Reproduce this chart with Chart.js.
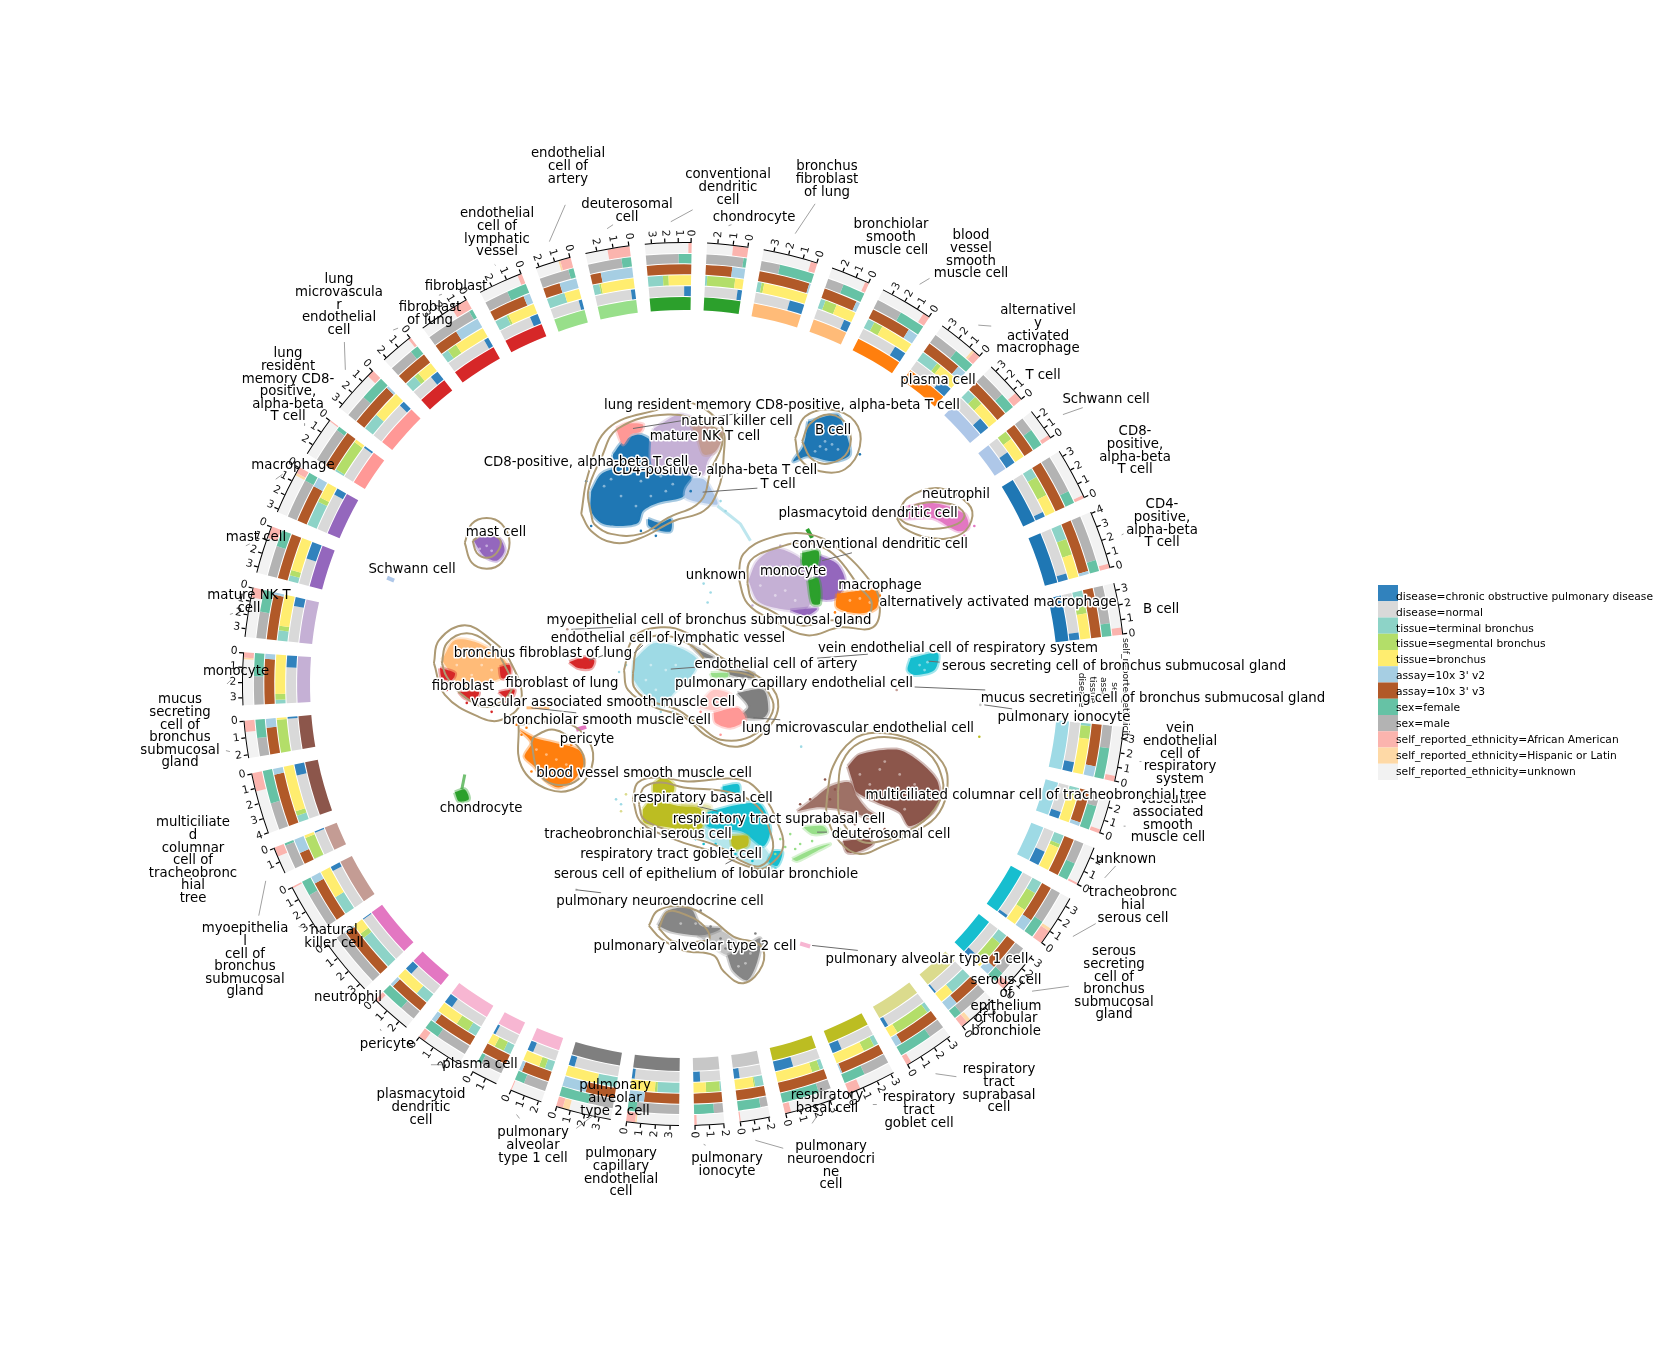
<!DOCTYPE html>
<html lang="en">
<head>
<meta charset="UTF-8">
<title>Lung cell atlas circular chart</title>
<script src="https://cdn.jsdelivr.net/npm/chart.js"></script>
<style>
    html, body { margin: 0; padding: 0; background: #fff; }
    #page { position: relative; width: 1668px; height: 1369px; overflow: hidden; }
    #rings { position: absolute; left: 238px; top: 238px; }
    #umap { position: absolute; left: 0; top: 0; }
</style>
</head>
<body>
<div id="page">
    <canvas id="rings" width="892" height="892"></canvas>
    <canvas id="umap" width="1668" height="1369"></canvas>
</div>
<script>
// sectors run clockwise, starting just right of 12 o'clock
const cellTypes = ['chondrocyte', 'bronchus fibroblast of lung', 'bronchiolar smooth muscle cell', 'blood vessel smooth muscle cell',
    'alternatively activated macrophage', 'T cell', 'Schwann cell', 'CD8-positive, alpha-beta T cell', 'CD4-positive, alpha-beta T cell', 'B cell',
    'vein endothelial cell of respiratory system', 'vascular associated smooth muscle cell', 'unknown', 'tracheobronchial serous cell',
    'serous secreting cell of bronchus submucosal gland', 'serous cell of epithelium of lobular bronchiole', 'respiratory tract suprabasal cell',
    'respiratory tract goblet cell', 'respiratory basal cell', 'pulmonary neuroendocrine cell', 'pulmonary ionocyte', 'pulmonary capillary endothelial cell',
    'pulmonary alveolar type 2 cell', 'pulmonary alveolar type 1 cell', 'plasma cell', 'plasmacytoid dendritic cell', 'pericyte', 'neutrophil',
    'natural killer cell', 'myoepithelial cell of bronchus submucosal gland', 'multiciliated columnar cell of tracheobronchial tree',
    'mucus secreting cell of bronchus submucosal gland', 'monocyte', 'mature NK T cell', 'mast cell', 'macrophage',
    'lung resident memory CD8-positive, alpha-beta T cell', 'lung microvascular endothelial cell', 'fibroblast of lung', 'fibroblast',
    'endothelial cell of lymphatic vessel', 'endothelial cell of artery', 'deuterosomal cell', 'conventional dendritic cell'];
const cellColors = ['#2ca02c', '#ffbb78', '#ffbb78', '#ff7f0e', '#ff7f0e', '#aec7e8', '#aec7e8', '#1f77b4', '#1f77b4', '#1f77b4',
    '#9edae5', '#9edae5', '#9edae5', '#17becf', '#17becf', '#dbdb8d', '#dbdb8d', '#bcbd22', '#bcbd22', '#c7c7c7', '#c7c7c7', '#7f7f7f',
    '#7f7f7f', '#f7b6d2', '#f7b6d2', '#f7b6d2', '#e377c2', '#e377c2', '#c49c94', '#c49c94', '#8c564b', '#8c564b', '#c5b0d5', '#c5b0d5',
    '#9467bd', '#9467bd', '#ff9896', '#ff9896', '#d62728', '#d62728', '#d62728', '#98df8a', '#98df8a', '#2ca02c'];
// axis length of each sector (log counts) and the arc it takes
const sectorMax = [2.7, 3.7, 2.8, 3.7, 3.5, 3.5, 2.7, 3.4, 4.1, 3.5, 3.8, 2.8, 2.7, 3.6, 3.2, 2.7, 3.2, 3.2, 3.3, 2.1, 2.0, 3.6, 3.8, 2.2,
    1.8, 2.7, 2.6, 3.4, 3.7, 1.8, 4.0, 2.2, 3.5, 3.6, 3.4, 3.2, 2.7, 3.3, 2.2, 3.7, 2.8, 2.2, 2.7, 3.5];
const sectorSpan = [5.4, 7.2, 5.2, 7.0, 6.3, 5.8, 4.3, 6.9, 7.7, 6.8, 7.2, 5.0, 5.3, 6.9, 5.7, 5.3, 6.7, 6.4, 6.7, 4.0, 3.9, 6.9, 7.3, 4.3,
    3.5, 6.3, 5.4, 7.5, 6.8, 3.6, 8.1, 4.9, 6.9, 6.5, 6.3, 6.5, 5.3, 6.5, 4.5, 6.8, 5.9, 4.7, 5.8, 6.1];

// share of each sector, in percent
const africanAmerican = [37, 12, 10, 13, 15, 20, 12, 6, 8, 14, 10, 10, 5, 27, 18, 17, 10, 25, 12, 4, 8, 17, 12, 3, 0, 15, 10, 0, 3, 35, 30, 30, 10, 20, 25, 13, 3, 15, 8, 33, 10, 30, 50, 7];
const hispanic = [0, 0, 0, 0, 5, 0, 0, 0, 0, 0, 0, 0, 0, 6, 0, 10, 0, 0, 0, 0, 0, 3, 12, 0, 0, 0, 0, 0, 0, 0, 0, 0, 3, 0, 0, 5, 0, 0, 0, 0, 0, 5, 0, 0];
const female = [8, 65, 58, 50, 45, 38, 55, 25, 20, 25, 58, 65, 45, 35, 25, 20, 68, 45, 75, 75, 68, 17, 55, 30, 15, 32, 60, 0, 30, 8, 55, 50, 45, 45, 35, 18, 10, 52, 25, 7, 45, 15, 22, 28];
const assayV2 = [33, 3, 10, 20, 20, 0, 0, 0, 5, 0, 20, 10, 0, 25, 22, 28, 13, 3, 0, 0, 0, 30, 45, 10, 0, 10, 8, 3, 15, 55, 10, 25, 10, 5, 0, 20, 0, 5, 0, 50, 15, 50, 75, 0];
const tissueBronchus = [22, 87, 55, 68, 50, 55, 70, 38, 42, 52, 70, 75, 65, 35, 15, 38, 17, 65, 75, 65, 45, 50, 62, 55, 30, 50, 65, 20, 60, 10, 80, 5, 80, 68, 75, 35, 8, 62, 50, 65, 65, 45, 80, 52];
const tissueSegmental = [73, 5, 32, 18, 10, 22, 30, 42, 30, 20, 25, 15, 10, 40, 60, 0, 75, 25, 17, 5, 50, 5, 0, 20, 40, 30, 0, 10, 0, 88, 8, 95, 12, 10, 12, 10, 87, 0, 15, 20, 5, 0, 4, 13];
const diseaseCopd = [12, 30, 20, 25, 30, 30, 42, 10, 12, 15, 20, 20, 40, 6, 15, 5, 8, 22, 40, 20, 25, 6, 12, 20, 10, 20, 20, 2, 10, 5, 20, 5, 25, 20, 40, 15, 5, 12, 27, 10, 20, 10, 10, 16];

const legendLabels = ['disease=chronic obstructive pulmonary disease', 'disease=normal', 'tissue=terminal bronchus', 'tissue=segmental bronchus', 'tissue=bronchus',
    "assay=10x 3' v2", "assay=10x 3' v3", 'sex=female', 'sex=male', 'self_reported_ethnicity=African American', 'self_reported_ethnicity=Hispanic or Latin', 'self_reported_ethnicity=unknown'];
const legendColors = ['#3182bd', '#d9d9d9', '#8dd3c7', '#b3de69', '#ffed6f', '#a6cee3', '#b15928', '#66c2a5', '#b3b3b3', '#fbb4ae', '#fed9a6', '#f2f2f2'];
const [cCopd, cNormal, cTerminal, cSegmental, cBronchus, cV2, cV3, cFemale, cMale, cAfrican, cHispanic, cEthUnknown] = legendColors;

const trackNames = ['self_reported_ethnicity', 'sex', 'assay', 'tissue', 'disease'];

// ---- UMAP cluster outlines and density contours ----
const tLower = [[590,490],[600,473],[617,467],[653,468],[690,475],[687,490],[680,497],[657,502],[642,510],[637,522],[617,525],[600,522],[590,510]];
const tUpper = [[612,453],[622,440],[637,433],[650,440],[652,467],[613,467]];
const tBud = [[647,518],[660,522],[670,518],[670,530],[660,530],[648,525]];
const lrmBlob = [[615,427],[627,422],[642,423],[640,430],[630,433],[622,443]];
const nkBlob = [[653,427],[680,413],[707,427],[717,443],[707,460],[703,473],[690,473],[653,467],[650,440]];
const nkBrown = [[690,423],[722,430],[715,450],[703,453],[697,437]];
const tLight = [[693,477],[703,478],[710,487],[717,503],[703,502],[685,497],[685,488]];
const bBlob = [[808,420],[837,413],[843,423],[850,453],[833,460],[807,455],[793,460],[803,445]];
const mastBlob = [[472,540],[483,535],[498,538],[503,550],[495,560],[482,555]];
const monoBlob = [[748,580],[757,560],[777,548],[803,560],[810,577],[810,603],[803,610],[773,607],[757,600]];
const macroBlob = [[820,555],[837,563],[845,580],[837,597],[820,598],[815,580]];
const macroFoot = [[790,610],[817,608],[807,615]];
const cdcTop = [[802,552],[818,550],[817,565],[803,565]];
const cdcLow = [[808,580],[818,578],[820,603],[812,603]];
const altBlob = [[837,593],[877,590],[877,607],[860,613],[837,607]];
const neutroBlob = [[901,508],[933,502],[965,513],[969,527],[958,530],[933,517],[904,517]];
const bronchFib = [[440,660],[453,640],[477,643],[503,660],[507,673],[487,683],[463,690],[447,670]];
const fibA = [[438,668],[453,673],[450,680],[440,678]];
const fibB = [[498,667],[508,665],[508,677],[500,678]];
const fibC = [[457,692],[477,692],[473,700],[463,698]];
const fibD = [[497,692],[513,690],[508,700]];
const fibLung = [[568,662],[583,657],[593,660],[590,668],[577,668]];
const veinBlob = [[633,660],[653,643],[677,647],[697,660],[690,677],[673,693],[660,707],[633,680]];
const capTop = [[690,645],[703,652],[713,657],[703,657]];
const capMid = [[728,670],[753,673],[753,678],[730,675]];
const artSliver = [[710,673],[727,673],[727,677],[712,677]];
const capBlob = [[737,693],[763,690],[768,710],[763,718],[740,717],[748,707]];
const lmvBlob = [[713,713],[737,708],[745,720],[730,728],[715,723]];
const lmvFaint = [[697,707],[713,690],[733,697],[715,710]];
const bloodBlob = [[518,730],[533,738],[553,743],[577,750],[583,763],[573,780],[557,788],[543,780],[533,767],[523,757],[530,743]];
const chondBlob = [[453,793],[463,790],[467,800],[457,802]];
const basalBig = [[642,810],[650,802],[680,807],[700,810],[700,830],[660,827],[643,823]];
const basalTop = [[652,785],[662,778],[673,785],[672,793],[653,793]];
const gobletLow = [[730,837],[747,837],[747,847],[733,850]];
const paleOlive = [[680,802],[710,807],[707,817],[683,817]];
const paleTeal = [[690,830],[710,822],[745,830],[765,850],[775,868],[755,868],[725,850]];
const serousTop = [[722,787],[738,785],[738,795],[723,793]];
const serousMid = [[707,813],[740,805],[760,805],[770,830],[763,847],[743,833],[727,830],[707,827]];
const serousLow = [[773,852],[782,853],[777,867],[768,862]];
const deutA = [[803,828],[823,827],[827,833],[813,835]];
const deutB = [[792,860],[813,850],[830,845],[817,852],[797,862]];
const multiBig = [[848,767],[860,755],[897,750],[917,760],[937,780],[940,797],[933,813],[910,827],[900,813],[877,803],[857,793],[853,783]];
const multiWing = [[797,812],[813,800],[830,787],[850,783],[857,797],[867,810],[877,817],[877,823],[853,813],[820,808]];
const multiFoot = [[843,842],[867,840],[873,845],[857,853],[847,853]];
const type2A = [[657,927],[667,912],[690,910],[700,927],[720,930],[710,935],[697,937],[670,933]];
const type2B = [[727,957],[743,950],[760,940],[757,963],[747,982],[733,973]];
const type2Neck = [[697,937],[720,932],[740,950],[727,957]];
const serousRight = [[911,658],[938,653],[935,670],[915,675],[908,670]];

// later entries are painted over earlier ones
const clusterShapes = [
    [tLower, '#1f77b4'], [tUpper, '#1f77b4'], [tBud, '#1f77b4'], [nkBlob, '#c5b0d5'], [nkBrown, '#c49c94'], [lrmBlob, '#ff9896'], [tLight, '#aec7e8'],
    [bBlob, '#1f77b4'], [mastBlob, '#9467bd'], [monoBlob, '#c5b0d5'], [macroBlob, '#9467bd'], [macroFoot, '#9467bd'], [cdcTop, '#2ca02c'], [cdcLow, '#2ca02c'],
    [altBlob, '#ff7f0e'], [neutroBlob, '#e377c2'], [bronchFib, '#ffbb78'], [fibA, '#d62728'], [fibB, '#d62728'], [fibC, '#d62728'], [fibD, '#d62728'],
    [fibLung, '#d62728'], [veinBlob, '#9edae5'], [capTop, '#7f7f7f'], [capMid, '#7f7f7f'], [artSliver, '#98df8a'], [lmvFaint, '#ffc8c6'], [capBlob, '#7f7f7f'], [lmvBlob, '#ff9896'],
    [bloodBlob, '#ff7f0e'], [chondBlob, '#2ca02c'], [paleTeal, '#b5e6ec'], [paleOlive, '#e4e4ad'], [basalBig, '#bcbd22'], [basalTop, '#bcbd22'], [serousTop, '#17becf'], [serousMid, '#17becf'], [gobletLow, '#bcbd22'],
    [serousLow, '#17becf'], [deutA, '#98df8a'], [deutB, '#98df8a'], [multiWing, '#9e7166'], [multiBig, '#8c564b'], [multiFoot, '#8c564b'],
    [type2Neck, '#c4c4c4'], [type2A, '#868686'], [type2B, '#868686'], [serousRight, '#17becf']
];

const contourShapes = [
    [[580,513],[587,473],[607,427],[660,407],[687,400],[720,423],[723,457],[717,490],[703,510],[673,520],[640,537],[613,542],[590,530]],
    [[590,513],[587,490],[600,457],[617,427],[667,413],[707,423],[722,437],[710,470],[700,500],[667,517],[640,533],[610,533],[593,523]],
    [[795,437],[805,415],[830,408],[855,420],[860,445],[845,468],[820,470],[800,458]],
    [[802,440],[810,422],[830,413],[848,425],[848,450],[830,462],[812,458]],
    [[463,542],[470,523],[485,517],[500,523],[508,542],[500,562],[485,568],[470,562]],
    [[471,540],[475,552],[485,557],[495,552],[499,540],[490,534],[480,534]],
    [[738,577],[743,553],[770,537],[807,533],[837,547],[870,580],[880,603],[873,627],[840,627],[807,635],[773,620],[747,603]],
    [[747,583],[750,560],[777,547],[807,542],[833,553],[860,587],[872,603],[863,620],[830,620],[800,625],[770,610],[752,600]],
    [[897,517],[908,497],[940,487],[969,503],[972,520],[958,535],[929,537],[904,527]],
    [[899,517],[919,503],[951,503],[965,513],[958,523],[933,528],[908,523]],
    [[432,663],[437,640],[463,625],[490,640],[508,660],[520,700],[500,720],[477,717],[443,695]],
    [[440,663],[445,643],[465,633],[487,643],[503,665],[510,690],[487,707],[463,697],[445,677]],
    [[623,670],[633,637],[660,627],[687,633],[720,657],[767,683],[778,707],[763,733],[737,747],[707,737],[683,717],[653,707],[627,690]],
    [[632,673],[637,647],[658,635],[690,645],[713,667],[753,677],[772,700],[770,717],[750,737],[720,740],[700,727],[677,710],[647,700],[633,687]],
    [[517,725],[520,767],[547,790],[577,787],[592,760],[583,735],[560,722]],
    [[530,743],[533,737],[553,730],[573,743],[583,760],[577,780],[553,785],[537,773]],
    [[827,797],[833,767],[853,740],[877,733],[917,742],[943,763],[948,787],[940,813],[920,830],[883,847],[860,855],[840,843],[827,817]],
    [[838,793],[842,763],[860,743],[893,738],[927,752],[943,780],[940,802],[917,827],[877,843],[857,840],[840,817]],
    [[632,800],[637,783],[657,778],[687,782],[740,780],[763,797],[777,823],[783,847],[773,863],[757,870],[713,853],[673,840],[640,823]],
    [[638,805],[643,788],[660,783],[683,788],[730,793],[757,807],[770,833],[772,853],[760,867],[743,863],[717,847],[673,833],[643,820]],
    [[648,927],[657,912],[683,908],[710,920],[733,938],[760,947],[762,967],[743,985],[723,973],[713,957],[683,952],[660,940]],
    [[658,930],[667,913],[687,917],[703,927],[709,940],[700,943],[673,943]]
];

// thin streaks of cells
const streaks = [
    [[[717,505],[730,515],[740,523],[750,540]], '#9edae5aa', 3],
    [[[807,528],[812,537]], '#2ca02c', 4],
    [[[385,577],[392,580]], '#aec7e8', 4],
    [[[463,775],[460,790]], '#2ca02caa', 3],
    [[[525,708],[548,708]], '#ffbb78', 3],
    [[[575,730],[585,727]], '#e377c2', 4],
    [[[800,945],[810,948]], '#f7b6d2', 4]
];
// isolated small clusters and loose cells around the big ones
const strayPoints = [
    ['#9edae5', [[703,583],[710,592],[707,602],[801,747],[615,800],[620,805],[625,665],[618,672],[660,712],[672,712],[690,700],[640,705],[720,500],[725,510]]],
    ['#c49c94', [[897,690],[566,629]]],
    ['#c7c7c7', [[981,705],[575,891]]],
    ['#bcbd22', [[980,737]]],
    ['#17becf', [[695,840],[703,845],[700,853],[712,838],[758,872],[765,870],[775,870],[752,862],[742,858],[735,855],[725,852],[715,845]]],
    ['#dbdb8d', [[665,835],[675,835],[690,833],[700,800],[715,800],[650,835],[640,830],[620,812],[625,795]]],
    ['#98df8a', [[790,835],[785,848],[800,845],[812,842],[775,855],[780,840],[795,850],[835,835],[840,830]]],
    ['#8c564b', [[800,805],[810,800],[825,780],[835,790],[845,815],[855,825],[870,830],[885,830],[895,835],[830,800]]],
    ['#d62728', [[445,690],[450,685],[465,703],[480,705],[490,712],[505,702],[515,680]]],
    ['#ff7f0e', [[515,725],[520,735],[525,728],[570,745],[585,770],[530,772],[835,612],[845,618],[880,595]]],
    ['#7f7f7f', [[690,905],[660,905],[700,912],[710,928],[720,940],[735,945],[762,945],[755,935],[725,950]]],
    ['#ff9896', [[695,700],[700,712],[750,728],[720,735]]],
    ['#c5b0d5', [[745,575],[752,605],[770,615],[790,620],[780,545]]],
    ['#1f77b4', [[590,525],[640,530],[655,535],[585,480],[690,490],[860,453]]],
    ['#e377c2', [[975,525],[965,535],[895,510],[910,505]]]
];
// bare patches inside the dense clusters
const holes = [[610,478],[625,473],[603,485],[640,480],[660,475],[620,495],[598,470],[650,495],[665,490],[672,483],[635,505],[645,515],[655,512],[630,472],[615,470],
    [820,445],[826,448],[832,443],[815,450],[838,448],[825,440],[770,575],[785,590],[760,585],[795,600],[775,595],[790,565],
    [465,650],[480,665],[455,665],[470,675],[490,670],[545,755],[555,760],[535,750],[565,765],[560,772],[550,770],
    [650,665],[665,670],[645,680],[675,665],[655,690],[880,770],[900,775],[915,785],[870,785],[895,795],[925,800],[905,810],[885,762],[860,775],
    [680,925],[695,925],[745,965],[750,955],[738,968],[850,600],[860,598],[870,602],[920,665],[928,662],[925,670],[485,545],[490,550],[478,548]];

// ---- text ----
const outerLabels = [
    [['conventional', 'dendritic', 'cell'], 728, 173], [['chondrocyte'], 754, 216], [['bronchus', 'fibroblast', 'of lung'], 827, 165],
    [['bronchiolar', 'smooth', 'muscle cell'], 891, 223], [['blood', 'vessel', 'smooth', 'muscle cell'], 971, 234],
    [['alternativel', 'y', 'activated', 'macrophage'], 1038, 309], [['T cell'], 1043, 374], [['Schwann cell'], 1106, 398],
    [['CD8-', 'positive,', 'alpha-beta', 'T cell'], 1135, 430], [['CD4-', 'positive,', 'alpha-beta', 'T cell'], 1162, 503], [['B cell'], 1161, 608],
    [['vein', 'endothelial', 'cell of', 'respiratory', 'system'], 1180, 727], [['vascular', 'associated', 'smooth', 'muscle cell'], 1168, 798],
    [['unknown'], 1126, 858], [['tracheobronc', 'hial', 'serous cell'], 1133, 891], [['serous', 'secreting', 'cell of', 'bronchus', 'submucosal', 'gland'], 1114, 950],
    [['serous cell', 'of', 'epithelium', 'of lobular', 'bronchiole'], 1006, 979], [['respiratory', 'tract', 'suprabasal', 'cell'], 999, 1068],
    [['respiratory', 'tract', 'goblet cell'], 919, 1096], [['respiratory', 'basal cell'], 827, 1094], [['pulmonary', 'neuroendocri', 'ne', 'cell'], 831, 1145],
    [['pulmonary', 'ionocyte'], 727, 1157], [['pulmonary', 'capillary', 'endothelial', 'cell'], 621, 1152], [['pulmonary', 'alveolar', 'type 2 cell'], 615, 1084],
    [['pulmonary', 'alveolar', 'type 1 cell'], 533, 1131], [['plasmacytoid', 'dendritic', 'cell'], 421, 1093], [['plasma cell'], 480, 1063], [['pericyte'], 387, 1043],
    [['neutrophil'], 348, 996], [['natural', 'killer cell'], 334, 929], [['myoepithelia', 'l', 'cell of', 'bronchus', 'submucosal', 'gland'], 245, 927],
    [['multiciliate', 'd', 'columnar', 'cell of', 'tracheobronc', 'hial', 'tree'], 193, 821], [['mucus', 'secreting', 'cell of', 'bronchus', 'submucosal', 'gland'], 180, 698],
    [['monocyte'], 236, 670], [['mature NK T', 'cell'], 249, 594], [['mast cell'], 256, 536], [['macrophage'], 293, 464],
    [['lung', 'resident', 'memory CD8-', 'positive,', 'alpha-beta', 'T cell'], 288, 352], [['lung', 'microvascula', 'r', 'endothelial', 'cell'], 339, 278],
    [['fibroblast', 'of lung'], 430, 306], [['fibroblast'], 456, 285], [['endothelial', 'cell of', 'lymphatic', 'vessel'], 497, 212],
    [['endothelial', 'cell of', 'artery'], 568, 152], [['deuterosomal', 'cell'], 627, 203]
];
// drawn in this order, later halos cover earlier text
const innerLabels = [
    ['B cell', 833, 429], ['CD4-positive, alpha-beta T cell', 715, 469], ['CD8-positive, alpha-beta T cell', 586, 461], ['Schwann cell', 412, 568],
    ['T cell', 778, 483], ['alternatively activated macrophage', 998, 601], ['blood vessel smooth muscle cell', 644, 772], ['bronchiolar smooth muscle cell', 607, 719],
    ['bronchus fibroblast of lung', 543, 652], ['chondrocyte', 481, 807], ['conventional dendritic cell', 880, 543], ['deuterosomal cell', 891, 833],
    ['endothelial cell of artery', 776, 663], ['endothelial cell of lymphatic vessel', 668, 637], ['fibroblast', 463, 685], ['fibroblast of lung', 562, 682],
    ['lung microvascular endothelial cell', 858, 727], ['lung resident memory CD8-positive, alpha-beta T cell', 782, 404], ['macrophage', 880, 584], ['mast cell', 496, 531],
    ['mature NK T cell', 705, 435], ['monocyte', 793, 570], ['mucus secreting cell of bronchus submucosal gland', 1153, 697],
    ['multiciliated columnar cell of tracheobronchial tree', 1036, 794], ['myoepithelial cell of bronchus submucosal gland', 709, 619], ['natural killer cell', 737, 420],
    ['neutrophil', 956, 493], ['pericyte', 587, 738], ['plasma cell', 938, 379], ['plasmacytoid dendritic cell', 868, 512], ['pulmonary alveolar type 1 cell', 927, 958],
    ['pulmonary alveolar type 2 cell', 695, 945], ['pulmonary capillary endothelial cell', 794, 682], ['pulmonary ionocyte', 1064, 716], ['pulmonary neuroendocrine cell', 660, 900],
    ['respiratory basal cell', 703, 797], ['respiratory tract goblet cell', 671, 853], ['respiratory tract suprabasal cell', 779, 818],
    ['serous cell of epithelium of lobular bronchiole', 706, 873], ['serous secreting cell of bronchus submucosal gland', 1114, 665],
    ['tracheobronchial serous cell', 638, 833], ['unknown', 716, 574], ['vascular associated smooth muscle cell', 603, 701], ['vein endothelial cell of respiratory system', 958, 647]
];

const outerLeaders = [
    [670,219,692,207],[728,223,731,222],[795,231,815,201],[920,282,930,276],[979,323,992,324],[1064,413,1084,406],[1123,534,1125,533],[1141,762,1143,762],[1125,827,1127,827],
    [1106,879,1117,867],[1074,938,1097,925],[1033,993,1070,988],[983,1037,985,1036],[936,1076,957,1079],[873,1107,877,1107],[812,1126,818,1117],[755,1143,783,1151],[703,1147,705,1148],
    [627,1163,637,1155],[575,1131,592,1118],[378,1031,379,1033],[429,1067,440,1067],[515,1117,518,1121],[296,928,301,929],[256,917,263,882],[223,751,227,752],[224,684,228,680],
    [227,614,230,613],[243,545,247,543],[273,478,280,473],[302,422,302,424],[342,340,343,368],[391,328,396,326],[437,293,440,292],[493,262,494,263],[548,239,564,202],[606,226,612,222]
];
const innerLeaders = [
    [632,427,682,419],[717,415,737,412],[702,491,757,487],[822,560,852,552],[570,629,612,627],[588,660,603,655],[633,653,642,645],[670,669,697,667],[817,658,868,654],[530,708,575,713],
    [915,687,986,690],[985,705,1013,709],[753,718,780,720],[812,947,858,952],[575,891,600,894],[697,807,717,812],[725,865,738,858],[817,833,827,833],[929,661,940,662]
];

// ---- ring layout ----
const cx = 684, cy = 684;
const ringFont = '"DejaVu Sans"';
const startAngle = 3;
const gap = 2, bigGap = 12;   // the wide gap sits after the B cell sector
const bigGapAfter = cellTypes.indexOf('B cell');
const labelShift = 2;         // "middle" sits a little high on this font

function gapAfter(i) { return i === bigGapAfter ? bigGap : gap; }

// one doughnut ring; stacksFor(i) gives [share, colour] from the zero end of the sector
function ringDataset(stacksFor, weight) {
    const data = [], backgroundColor = [];
    sectorSpan.forEach((span, i) => {
        // zero is on the clockwise end, arcs are laid out clockwise
        stacksFor(i).slice().reverse().forEach(([share, color]) => {
            data.push(share * span / 100);
            backgroundColor.push(color);
        });
        data.push(gapAfter(i));
        backgroundColor.push('rgba(0,0,0,0)');
    });
    return { data, backgroundColor, weight, borderWidth: 0 };
}

function spacer(weight) {
    return { data: [1], backgroundColor: ['rgba(0,0,0,0)'], weight, borderWidth: 0 };
}

function tickRing(weight) {
    const data = [], backgroundColor = [];
    const tickDeg = 0.16;
    sectorSpan.forEach((span, i) => {
        let pos = 0;
        const n = Math.floor(sectorMax[i]);
        for (let k = n; k >= 0; k--) {
            const at = span * (1 - k / sectorMax[i]) - (k === 0 ? tickDeg : tickDeg / 2);
            data.push(Math.max(at - pos, 0));
            backgroundColor.push('rgba(0,0,0,0)');
            data.push(tickDeg);
            backgroundColor.push('#000');
            pos = Math.max(at, pos) + tickDeg;
        }
        data.push(Math.max(span - pos, 0) + gapAfter(i));
        backgroundColor.push('rgba(0,0,0,0)');
    });
    return { data, backgroundColor, weight, borderWidth: 0 };
}

new Chart(document.getElementById('rings'), {
    type: 'doughnut',
    data: {
        datasets: [
            tickRing(4),
            ringDataset(() => [[100, '#000']], 1),
            ringDataset(i => [[africanAmerican[i], cAfrican], [hispanic[i], cHispanic], [100 - africanAmerican[i] - hispanic[i], cEthUnknown]], 10),
            spacer(1),
            ringDataset(i => [[female[i], cFemale], [100 - female[i], cMale]], 9.5),
            spacer(1),
            ringDataset(i => [[assayV2[i], cV2], [100 - assayV2[i], cV3]], 10),
            spacer(1),
            ringDataset(i => [[tissueBronchus[i], cBronchus], [tissueSegmental[i], cSegmental], [100 - tissueBronchus[i] - tissueSegmental[i], cTerminal]], 10),
            spacer(1),
            ringDataset(i => [[diseaseCopd[i], cCopd], [100 - diseaseCopd[i], cNormal]], 10),
            spacer(1),
            ringDataset(i => [[100, cellColors[i]]], 13)
        ]
    },
    options: {
        responsive: false,
        animation: false,
        events: [],
        rotation: startAngle,
        cutout: 374,
        layout: { padding: 0 },
        plugins: { legend: { display: false }, tooltip: { enabled: false } }
    }
});

// ---- overlay: UMAP, leaders, all the text ----
function closed(shape) {
    return shape.concat([shape[0]]).map(([x, y]) => ({ x, y }));
}

const umapDatasets = [];
contourShapes.forEach(shape => umapDatasets.push({
    type: 'line', data: closed(shape), borderColor: '#ad9a74', borderWidth: 2, pointRadius: 0, fill: false, tension: 0.4, order: 2
}));
umapDatasets.push({
    type: 'scatter', data: holes.map(([x, y]) => ({ x, y })), backgroundColor: 'rgba(255,255,255,0.45)', pointRadius: 1.4, borderWidth: 0, order: 3
});
clusterShapes.forEach(([shape, color], i) => umapDatasets.push({
    type: 'line', data: closed(shape), borderColor: color + '66', backgroundColor: color, borderWidth: 4, pointRadius: 0, fill: 'shape', tension: 0.3, order: 100 - i
}));
streaks.forEach(([line, color, width]) => umapDatasets.push({
    type: 'line', data: line.map(([x, y]) => ({ x, y })), borderColor: color, borderWidth: width, pointRadius: 0, fill: false, order: 5
}));
strayPoints.forEach(([color, pts]) => umapDatasets.push({
    type: 'scatter', data: pts.map(([x, y]) => ({ x, y })), backgroundColor: color, pointRadius: 1.3, borderWidth: 0, order: 4
}));
outerLeaders.forEach(l => umapDatasets.push({
    type: 'line', data: [{ x: l[0], y: l[1] }, { x: l[2], y: l[3] }], borderColor: '#a0a0a0', borderWidth: 1, pointRadius: 0, order: 1
}));
innerLeaders.forEach(l => umapDatasets.push({
    type: 'line', data: [{ x: l[0], y: l[1] }, { x: l[2], y: l[3] }], borderColor: '#6b6b6b', borderWidth: 1, pointRadius: 0, order: 1
}));

const textPlugin = {
    id: 'chartText',
    afterDraw(chart) {
        const ctx = chart.ctx;
        ctx.save();
        ctx.textBaseline = 'middle';

        // axis tick labels, turned to read along the radius
        ctx.textAlign = 'center';
        ctx.fillStyle = '#111';
        ctx.font = '10.7px ' + ringFont;
        let start = startAngle;
        sectorSpan.forEach((span, i) => {
            for (let k = 0; k <= Math.floor(sectorMax[i]); k++) {
                const deg = start + span * (1 - k / sectorMax[i]);
                const rad = deg * Math.PI / 180;
                const x = cx + 451 * Math.sin(rad), y = cy - 451 * Math.cos(rad);
                ctx.save();
                ctx.translate(x, y);
                const norm = ((deg % 360) + 360) % 360;
                ctx.rotate((norm < 180 ? norm - 90 : norm + 90) * Math.PI / 180);
                ctx.fillText(String(k), 0, 0);
                ctx.restore();
            }
            start += span + gapAfter(i);
        });

        // track names in the wide gap
        ctx.font = '9.1px ' + ringFont;
        trackNames.forEach((name, i) => {
            ctx.save();
            ctx.translate(1125 - i * 10.8, 690);
            ctx.rotate(Math.PI / 2);
            ctx.fillText(name, 0, 0);
            ctx.restore();
        });

        // cell type labels around the ring
        ctx.font = '13.3px ' + ringFont;
        ctx.fillStyle = '#000';
        outerLabels.forEach(([lines, x, y]) => {
            lines.forEach((line, i) => ctx.fillText(line, x, y + labelShift + i * 12.6));
        });

        // labels on the map, white halo
        ctx.lineJoin = 'round';
        ctx.lineWidth = 3;
        ctx.strokeStyle = '#fff';
        innerLabels.forEach(([text, x, y]) => {
            ctx.strokeText(text, x, y + labelShift);
            ctx.fillText(text, x, y + labelShift);
        });

        // legend
        legendColors.forEach((color, i) => {
            ctx.fillStyle = color;
            ctx.fillRect(1378, 585 + i * 16.25, 20, 16.25);
        });
        ctx.font = '10.7px ' + ringFont;
        ctx.fillStyle = '#000';
        ctx.textAlign = 'left';
        legendLabels.forEach((label, i) => ctx.fillText(label, 1396, 597 + i * 15.9));
        ctx.restore();
    }
};

new Chart(document.getElementById('umap'), {
    type: 'scatter',
    data: { datasets: umapDatasets },
    options: {
        responsive: false,
        animation: false,
        events: [],
        layout: { padding: 0 },
        scales: {
            x: { type: 'linear', min: 0, max: 1668, display: false },
            y: { type: 'linear', min: 0, max: 1369, reverse: true, display: false }
        },
        plugins: { legend: { display: false }, tooltip: { enabled: false } }
    },
    plugins: [textPlugin]
});
</script>
</body>
</html>
